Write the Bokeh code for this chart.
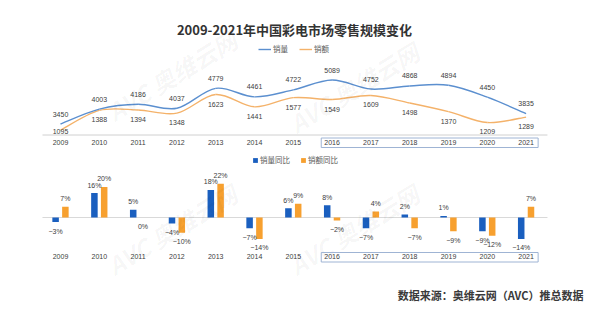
import numpy as np
from bokeh.plotting import figure
from bokeh.models import (Range1d, LinearAxis, FixedTicker, ColumnDataSource, Label,
                          Legend, LegendItem, BoxAnnotation)
from bokeh.transform import dodge
from bokeh.core.properties import value
from bokeh.embed import file_html
from bokeh.resources import INLINE

# ---------------- data ----------------
years = [2009, 2010, 2011, 2012, 2013, 2014, 2015, 2016, 2017, 2018, 2019, 2020, 2021]
sales_volume = [3450, 4003, 4186, 4037, 4779, 4461, 4722, 5089, 4752, 4868, 4894, 4450, 3835]  # 销量
sales_amount = [1095, 1388, 1394, 1348, 1623, 1441, 1577, 1549, 1609, 1498, 1370, 1209, 1289]  # 销额
volume_yoy = [-3, 16, 5, -4, 18, -7, 6, 8, -7, 2, 1, -9, -14]      # 销量同比 %
amount_yoy = [7, 20, 0, -10, 22, -14, 9, -2, 4, -7, -9, -12, 7]    # 销额同比 %
title_text = "2009-2021年中国彩电市场零售规模变化"
source_text = "数据来源：奥维云网（AVC）推总数据"
highlight_from = 2016

W, H = 600, 324
CJK = "Noto Sans CJK SC"
NUM = "Liberation Sans"

# default ranges: x in years, y in pixels from top (frame == canvas)
px_per_year = 38.8
x_first_px = 60.0
x0 = years[0] - x_first_px / px_per_year
x1 = years[0] + (W - x_first_px) / px_per_year

p = figure(width=W, height=H, output_backend="svg", toolbar_location=None,
           x_range=Range1d(x0, x1), y_range=Range1d(H, 0),
           x_axis_type=None, y_axis_type=None, title=None, min_border=0)
p.outline_line_color = None
p.background_fill_color = "white"
p.border_fill_color = "white"

# value axes (hidden) placed so that the two charts sit where they do in the picture
def rng(v_ref, px_ref, units_per_px):
    return Range1d(v_ref - (H - px_ref) * units_per_px, v_ref + px_ref * units_per_px)

p.extra_y_ranges = {
    "vol": rng(3450, 123.5, 37.25),
    "amt": rng(1209, 122.0, 14.8),
    "pct": rng(0, 217.0, 1 / 1.53),
}

# faint watermarks
for wx, wy in [(118, 128), (300, 140), (118, 282), (300, 282)]:
    p.add_layout(Label(x=wx, y=wy, x_units="screen", y_units="data", text="AVC 奥维云网",
                       angle=0.55, text_font=CJK, text_font_style="bold italic",
                       text_font_size="24px", text_color="#000000", text_alpha=0.04))

# ---------------- top chart: lines ----------------
year_arr = np.asarray(years, float)
left_edge = year_arr[0] - 0.464
right_edge = year_arr[-1] + 0.55
p.segment(x0=[left_edge], y0=[134.5], x1=[right_edge], y1=[134.5],
          line_color="#d0d0d0", line_width=1)

def bezier_source(xs, ys):
    xs = np.asarray(xs, float); ys = np.asarray(ys, float)
    n = len(xs)
    xp = np.concatenate([[xs[0]], xs, [xs[-1]]])
    yp = np.concatenate([[ys[0]], ys, [ys[-1]]])
    cx0 = xs[:-1] + (xp[2:n + 1] - xp[0:n - 1]) / 6
    cy0 = ys[:-1] + (yp[2:n + 1] - yp[0:n - 1]) / 6
    cx1 = xs[1:] - (xp[3:n + 2] - xp[1:n]) / 6
    cy1 = ys[1:] - (yp[3:n + 2] - yp[1:n]) / 6
    return ColumnDataSource(dict(x0=xs[:-1], y0=ys[:-1], x1=xs[1:], y1=ys[1:],
                                 cx0=cx0, cy0=cy0, cx1=cx1, cy1=cy1))

BLUE_LINE = "#5b8fcf"
ORANGE_LINE = "#f4b26a"
p.bezier(x0="x0", y0="y0", x1="x1", y1="y1", cx0="cx0", cy0="cy0", cx1="cx1", cy1="cy1",
         source=bezier_source(years, sales_amount), y_range_name="amt",
         line_color=ORANGE_LINE, line_width=1.4)
p.bezier(x0="x0", y0="y0", x1="x1", y1="y1", cx0="cx0", cy0="cy0", cx1="cx1", cy1="cy1",
         source=bezier_source(years, sales_volume), y_range_name="vol",
         line_color=BLUE_LINE, line_width=1.4)
# legend proxies
leg_vol = p.line(years, sales_volume, y_range_name="vol", line_color=BLUE_LINE, line_width=1.4, visible=False)
leg_amt = p.line(years, sales_amount, y_range_name="amt", line_color=ORANGE_LINE, line_width=1.4, visible=False)

lab_style = dict(text_font=value(NUM), text_font_size="7px", text_color="#404040",
                 text_align="center", text_baseline="middle")
p.text(x=years, y=sales_volume, text=[str(v) for v in sales_volume],
       y_range_name="vol", y_offset=-10, **lab_style)
# amount labels sit below the curve, but never lower than just above the axis line
amt_floor = p.extra_y_ranges["amt"].end - 121.5 * 14.8
amt_label_y = np.maximum(np.asarray(sales_amount, float), amt_floor)
p.text(x=years, y=amt_label_y, text=[str(v) for v in sales_amount],
       y_range_name="amt", y_offset=9.5, **lab_style)

# ---------------- bottom chart: bars ----------------
p.segment(x0=[left_edge], y0=[0], x1=[right_edge], y1=[0], y_range_name="pct",
          line_color="#d9d9d9", line_width=1)

BLUE_BAR = "#1a5fbf"
ORANGE_BAR = "#f7a02f"
off = 0.126
bw = 0.168
src = ColumnDataSource(dict(
    year=years, vol=volume_yoy, amt=amount_yoy,
    vol_lab=[("−%d%%" % -v) if v < 0 else "%d%%" % v for v in volume_yoy],
    amt_lab=[("−%d%%" % -v) if v < 0 else "%d%%" % v for v in amount_yoy],
    vol_off=[-8 if v > 0 else 9 for v in volume_yoy],
    amt_off=[-8 if v > 0 else 9 for v in amount_yoy],
))
bar_vol = p.vbar(x=dodge("year", -off, range=p.x_range), top="vol", bottom=0, width=bw,
                 source=src, y_range_name="pct", fill_color=BLUE_BAR, line_color=None)
bar_amt = p.vbar(x=dodge("year", off, range=p.x_range), top="amt", bottom=0, width=bw,
                 source=src, y_range_name="pct", fill_color=ORANGE_BAR, line_color=None)
p.text(x=dodge("year", -off, range=p.x_range), y="vol", text="vol_lab", y_offset="vol_off",
       source=src, y_range_name="pct", **lab_style)
p.text(x=dodge("year", off, range=p.x_range), y="amt", text="amt_lab", y_offset="amt_off",
       source=src, y_range_name="pct", **lab_style)

# ---------------- year axes ----------------
for loc in (130.5, 244.5):
    ax = LinearAxis(ticker=FixedTicker(ticks=years), fixed_location=loc,
                    axis_line_color=None, major_tick_line_color=None,
                    minor_tick_line_color=None, major_label_standoff=3,
                    major_label_text_font=NUM, major_label_text_font_size="7px",
                    major_label_text_color="#404040")
    p.add_layout(ax, "below")

# boxes around the 2016-2021 year labels
box_left = highlight_from - 0.28
box_right = years[-1] + 0.31
for top, bottom in ((137.5, 147.0), (252.0, 261.5)):
    p.add_layout(BoxAnnotation(left=box_left, right=box_right, top=top, bottom=bottom,
                               fill_alpha=0, line_color="#9fb4d4", line_alpha=1.0,
                               line_width=1))

# ---------------- legends ----------------
leg_common = dict(orientation="horizontal", padding=0, margin=0, label_standoff=2,
                  label_height=10, label_text_font=CJK, label_text_font_size="7.5px",
                  label_text_color="#595959", border_line_color=None,
                  background_fill_alpha=0)
p.add_layout(Legend(items=[LegendItem(label="销量", renderers=[leg_vol]),
                           LegendItem(label="销额", renderers=[leg_amt])],
                    location=(258, H - 54), spacing=11, glyph_width=13, glyph_height=8,
                    label_width=14, **leg_common))
p.add_layout(Legend(items=[LegendItem(label="销量同比", renderers=[bar_vol]),
                           LegendItem(label="销额同比", renderers=[bar_amt])],
                    location=(252, H - 165), spacing=10, glyph_width=6, glyph_height=6,
                    label_width=28, **leg_common))

# ---------------- titles ----------------
p.add_layout(Label(x=294, y=29, x_units="screen", y_units="data", text=title_text,
                   text_align="center", text_baseline="middle", text_font=CJK,
                   text_font_style="bold", text_font_size="13px", text_color="#333333"))
p.add_layout(Label(x=583, y=294, x_units="screen", y_units="data", text=source_text,
                   text_align="right", text_baseline="middle", text_font=CJK,
                   text_font_style="bold", text_font_size="11px", text_color="#3a3a3a"))

open("out.html", "w").write(file_html(p, INLINE))
